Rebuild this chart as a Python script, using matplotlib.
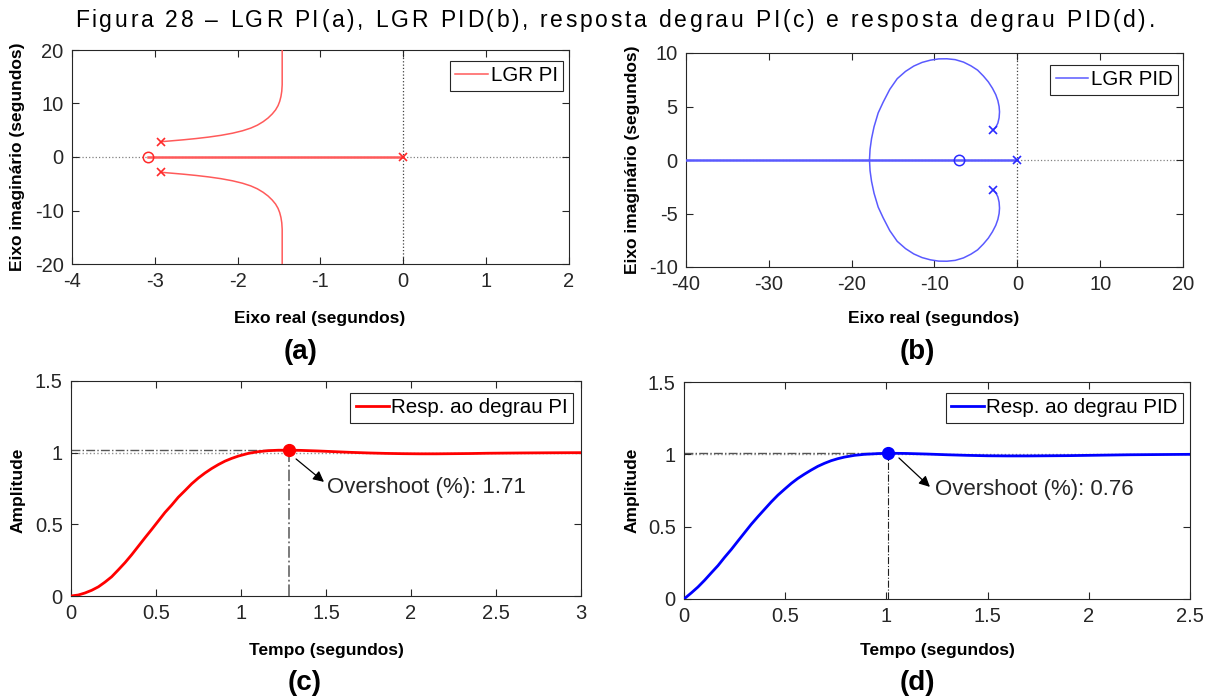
import matplotlib
matplotlib.use("Agg")
import matplotlib.pyplot as plt

plt.rcParams['font.family'] = ['Liberation Sans', 'DejaVu Sans']
plt.rcParams['axes.unicode_minus'] = False

# ---------------- data ----------------
# (a) root locus PI
pi_poles_re = [0.0, -2.92, -2.92]
pi_poles_im = [0.0, 2.86, -2.86]
pi_zeros_re = [-3.08]
pi_zeros_im = [0.0]
pi_branch_re = [-2.92, -2.80, -2.65, -2.50, -2.35, -2.20, -2.06, -1.94, -1.84, -1.76,
                -1.69, -1.63, -1.58, -1.54, -1.51, -1.49, -1.475, -1.465, -1.46, -1.46]
pi_branch_im = [2.86, 3.02, 3.22, 3.45, 3.72, 4.05, 4.45, 4.9, 5.4, 5.95,
                6.6, 7.3, 8.05, 8.8, 9.6, 10.4, 11.3, 12.3, 13.5, 20.0]
pi_real_re = [0.0, -3.08]

# (b) root locus PID
pid_poles_re = [0.0, -2.9, -2.9]
pid_poles_im = [0.0, 2.81, -2.81]
pid_zeros_re = [-7.0]
pid_zeros_im = [0.0]
pid_branch_re = [-2.9, -2.6, -2.35, -2.2, -2.15, -2.2, -2.35, -2.6, -3.0, -3.5, -4.1,
                 -4.8, -5.6, -6.5, -7.5, -8.5, -9.5, -10.5, -11.5, -12.5, -13.5, -14.5,
                 -15.4, -16.2, -16.8, -17.3, -17.6, -17.78, -17.85]
pid_branch_im = [2.81, 3.05, 3.45, 3.95, 4.5, 5.0, 5.55, 6.1, 6.7, 7.3, 7.85,
                 8.4, 8.8, 9.15, 9.38, 9.46, 9.45, 9.33, 9.12, 8.78, 8.28, 7.6,
                 6.6, 5.4, 4.4, 3.1, 2.0, 1.0, 0.0]
pid_real_re = [-40.0, 0.0]

# (c) step response PI
t_pi = [0, 0.043, 0.082, 0.122, 0.161, 0.2, 0.239, 0.278, 0.318, 0.357, 0.396, 0.435,
        0.475, 0.514, 0.553, 0.592, 0.631, 0.671, 0.71, 0.749, 0.788, 0.827, 0.867,
        0.906, 0.945, 0.984, 1.043, 1.102, 1.161, 1.22, 1.28, 1.35, 1.45, 1.55, 1.65,
        1.75, 1.85, 1.95, 2.05, 2.15, 2.25, 2.35, 2.45, 2.55, 2.65, 2.8, 3.0]
y_pi = [0, 0.007, 0.021, 0.040, 0.064, 0.097, 0.134, 0.182, 0.233, 0.288, 0.347, 0.406,
        0.465, 0.524, 0.583, 0.634, 0.689, 0.736, 0.783, 0.823, 0.858, 0.889, 0.917,
        0.941, 0.960, 0.976, 0.995, 1.007, 1.014, 1.017, 1.0171, 1.016, 1.012, 1.007,
        1.002, 0.998, 0.995, 0.993, 0.992, 0.992, 0.993, 0.994, 0.996, 0.997, 0.998,
        0.999, 1.0]
pi_peak_t, pi_peak_y = 1.28, 1.0171
pi_overshoot = "1.71"

# (d) step response PID
t_pid = [0, 0.036, 0.069, 0.102, 0.135, 0.168, 0.2, 0.234, 0.266, 0.299, 0.332, 0.365,
         0.398, 0.431, 0.464, 0.497, 0.53, 0.562, 0.595, 0.628, 0.661, 0.694, 0.727,
         0.76, 0.793, 0.842, 0.891, 0.957, 1.01, 1.1, 1.2, 1.3, 1.4, 1.5, 1.6, 1.7,
         1.8, 1.9, 2.0, 2.1, 2.2, 2.3, 2.4, 2.5]
y_pid = [0, 0.042, 0.083, 0.13, 0.181, 0.231, 0.287, 0.343, 0.4, 0.458, 0.516, 0.569,
         0.62, 0.671, 0.718, 0.759, 0.799, 0.833, 0.863, 0.891, 0.917, 0.938, 0.956,
         0.97, 0.981, 0.993, 1.0, 1.005, 1.0076, 1.006, 1.002, 0.997, 0.993, 0.99,
         0.989, 0.989, 0.99, 0.991, 0.993, 0.995, 0.997, 0.998, 0.999, 1.0]
pid_peak_t, pid_peak_y = 1.01, 1.0076
pid_overshoot = "0.76"

title_text = "Figura 28 – LGR PI(a), LGR PID(b), resposta degrau PI(c) e resposta degrau PID(d)."

# ---------------- figure ----------------
W, H = 1229, 699
fig = plt.figure(figsize=(W / 100, H / 100), dpi=100)
fig.patch.set_facecolor('white')
DARK = '#262626'
TICKFS = 14.5
LABFS = 12.5
LEGFS = 14.8


def add_ax(l, t, r, b):
    return fig.add_axes([l / W, 1 - b / H, (r - l) / W, (b - t) / H])


def style(ax, xlim, ylim, xt, xtl, yt, ytl):
    ax.set_xlim(*xlim)
    ax.set_ylim(*ylim)
    ax.set_xticks(xt)
    ax.set_xticklabels(xtl)
    ax.set_yticks(yt)
    ax.set_yticklabels(ytl)
    ax.tick_params(direction='in', top=True, right=True, length=5, width=0.8,
                   labelsize=TICKFS, colors=DARK, pad=6)
    for s in ax.spines.values():
        s.set_color(DARK)
        s.set_linewidth(0.8)


def legend(ax, corner):
    lg = ax.legend(loc='upper right', fontsize=LEGFS, frameon=True, fancybox=False,
                   edgecolor=DARK, framealpha=1, borderpad=0.26, handlelength=1.6,
                   handletextpad=0.12, borderaxespad=0,
                   bbox_to_anchor=(corner[0] / W, 1 - corner[1] / H),
                   bbox_transform=fig.transFigure)
    lg.get_frame().set_linewidth(0.8)


def px(x, y, s, **kw):
    fig.text(x / W, 1 - y / H, s, **kw)


# (a)
axa = add_ax(72, 50, 568.5, 264)
style(axa, (-4, 2), (-20, 20), [-4, -3, -2, -1, 0, 1, 2],
      ['-4', '-3', '-2', '-1', '0', '1', '2'],
      [-20, -10, 0, 10, 20], ['-20', '-10', '0', '10', '20'])
axa.axhline(0, color='#808080', ls=':', lw=0.9, zorder=1)
axa.axvline(0, color='#404040', ls=':', lw=0.9, zorder=1)
ca = '#ff5a5a'
axa.plot(pi_branch_re, pi_branch_im, color=ca, lw=1.1, label='LGR PI', zorder=3)
axa.plot(pi_branch_re, [-v for v in pi_branch_im], color=ca, lw=1.1, zorder=3)
axa.plot(pi_real_re, [0, 0], color=ca, lw=1.8, zorder=3)
axa.plot(pi_poles_re, pi_poles_im, ls='none', marker='x', ms=6, mew=1.2, color='#ff2a2a', zorder=4)
axa.plot(pi_zeros_re, pi_zeros_im, ls='none', marker='o', ms=7.5, mew=1.1, mfc='none',
         mec='#ff2a2a', zorder=4)
legend(axa, (563, 61))

# (b)
axb = add_ax(686, 53, 1183, 267)
style(axb, (-40, 20), (-10, 10), [-40, -30, -20, -10, 0, 10, 20],
      ['-40', '-30', '-20', '-10', '0', '10', '20'],
      [-10, -5, 0, 5, 10], ['-10', '-5', '0', '5', '10'])
axb.axhline(0, color='#808080', ls=':', lw=0.9, zorder=1)
axb.axvline(0, color='#404040', ls=':', lw=0.9, zorder=1)
cb = '#5a5aff'
axb.plot(pid_branch_re, pid_branch_im, color=cb, lw=1.1, label='LGR PID', zorder=3)
axb.plot(pid_branch_re, [-v for v in pid_branch_im], color=cb, lw=1.1, zorder=3)
axb.plot(pid_real_re, [0, 0], color=cb, lw=1.8, zorder=3)
axb.plot(pid_poles_re, pid_poles_im, ls='none', marker='x', ms=6, mew=1.2, color='#2a2aff', zorder=4)
axb.plot(pid_zeros_re, pid_zeros_im, ls='none', marker='o', ms=7.5, mew=1.1, mfc='none',
         mec='#2a2aff', zorder=4)
legend(axb, (1178, 65))


def step_panel(ax, t, y, color, label, pk_t, pk_y, ov, xmax, xt, xtl, vcol, vlw,
               arr_start, arr_end, txt_pos, corner):
    style(ax, (0, xmax), (0, 1.5), xt, xtl, [0, 0.5, 1, 1.5], ['0', '0.5', '1', '1.5'])
    ax.axhline(1.0, color='#909090', ls=':', lw=1.0, zorder=1)
    ax.plot([0, pk_t], [pk_y, pk_y], color='#555555', ls='-.', lw=1.0, zorder=1)
    ax.plot([pk_t, pk_t], [0, pk_y], color=vcol, ls='-.', lw=vlw, zorder=1)
    ax.plot(t, y, color=color, lw=2.0, label=label, zorder=3)
    ax.plot([pk_t], [pk_y], marker='o', ms=8.5, color=color, zorder=4)
    ax.annotate('', xy=arr_end, xytext=arr_start,
                arrowprops=dict(arrowstyle='-|>', color='black', lw=0.9,
                                mutation_scale=16, shrinkA=0, shrinkB=0), zorder=5)
    ax.text(txt_pos[0], txt_pos[1], 'Overshoot (%): ' + ov, fontsize=16, color=DARK,
            va='center', ha='left')
    legend(ax, corner)


axc = add_ax(71, 381, 581, 596)
step_panel(axc, t_pi, y_pi, '#ff0000', 'Resp. ao degrau PI', pi_peak_t, pi_peak_y,
           pi_overshoot, 3, [0, 0.5, 1, 1.5, 2, 2.5, 3],
           ['0', '0.5', '1', '1.5', '2', '2.5', '3'], '#707070', 1.3,
           (1.324, 0.956), (1.488, 0.796), (1.505, 0.76), (573, 393))

axd = add_ax(684, 382, 1190, 599)
step_panel(axd, t_pid, y_pid, '#0000ff', 'Resp. ao degrau PID', pid_peak_t, pid_peak_y,
           pid_overshoot, 2.5, [0, 0.5, 1, 1.5, 2, 2.5],
           ['0', '0.5', '1', '1.5', '2', '2.5'], '#202020', 0.8,
           (1.062, 0.975), (1.215, 0.775), (1.24, 0.754), (1183, 393))

# axis labels
bold = dict(fontsize=LABFS, fontweight='bold', color='black', ha='center', va='center')
px(320, 318, 'Eixo real (segundos)', **bold)
px(934, 318, 'Eixo real (segundos)', **bold)
px(326, 650, 'Tempo (segundos)', **bold)
px(937, 650, 'Tempo (segundos)', **bold)
px(18, 157, 'Eixo imaginário (segundos)', rotation=90, **bold)
px(632, 160, 'Eixo imaginário (segundos)', rotation=90, **bold)
px(18, 490, 'Amplitude', rotation=90, **bold)
px(632, 490, 'Amplitude', rotation=90, **bold)

# panel letters
pl = dict(fontsize=20, fontweight='bold', color='black', ha='center', va='center')
px(301, 352, '(a)', **pl)
px(917, 352, '(b)', **pl)
px(305, 683, '(c)', **pl)
px(917, 683, '(d)', **pl)

# letter-spaced title
renderer = fig.canvas.get_renderer()
tkw = dict(fontsize=16.5, color='black')


def wid(s):
    t = fig.text(0, 0, s, **tkw)
    w = t.get_window_extent(renderer).width
    t.remove()
    return w


wx = wid('x')
adv = [0.0] + [wid(title_text[:i] + 'x') - wx for i in range(1, len(title_text) + 1)]
x0, x1 = 75, 1155
n = len(title_text)
natural = adv[-1]
extra = (x1 - x0 - natural) / (n - 1) if n > 1 else 0
for i, ch in enumerate(title_text):
    if ch == ' ':
        continue
    fig.text((x0 + adv[i] + i * extra) / W, 1 - 27 / H, ch, va='baseline', ha='left', **tkw)

fig.savefig('out.png', dpi=100, facecolor='white')
